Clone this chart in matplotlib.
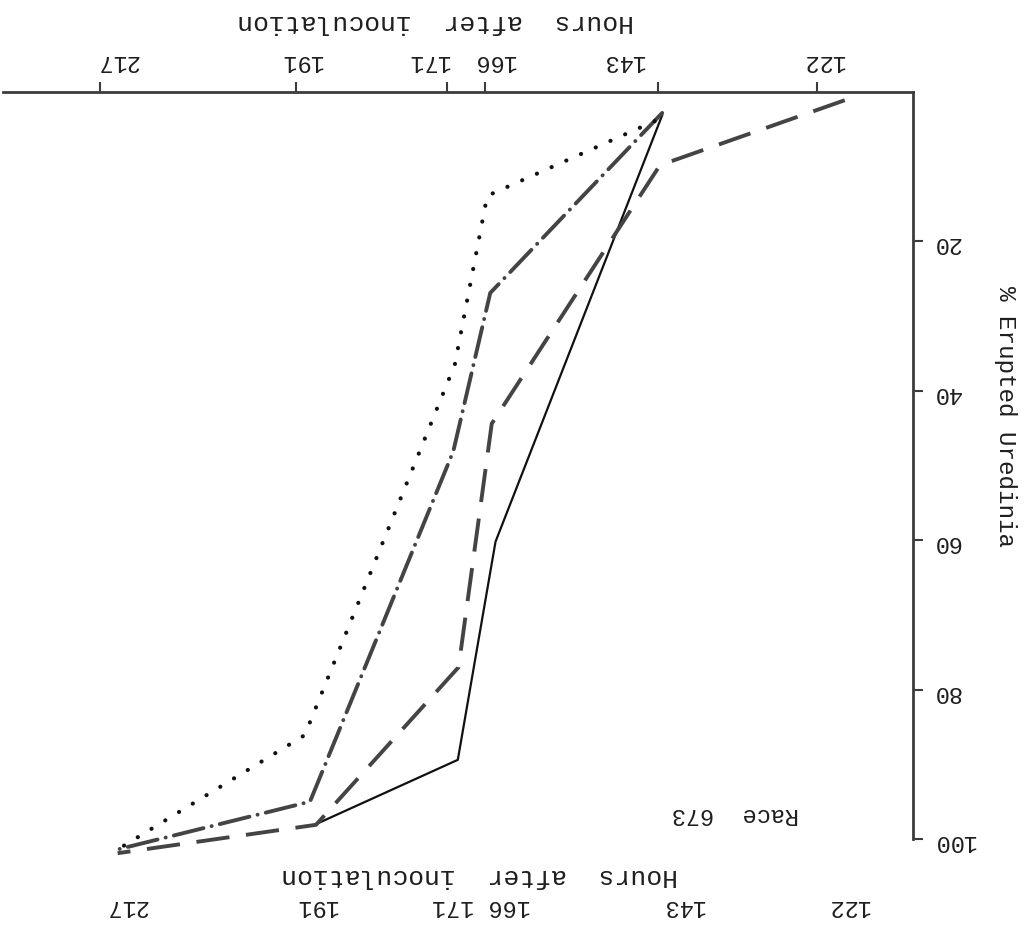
import matplotlib
matplotlib.use('Agg')
import matplotlib.pyplot as plt
import matplotlib.transforms as mtransforms

plt.rcParams['font.family'] = ['Liberation Mono', 'DejaVu Sans Mono']
plt.rcParams['lines.scale_dashes'] = False

# tick values
hour_ticks = [122, 143, 166, 171, 191, 217]
pct_ticks = [20, 40, 60, 80, 100]

# curves (hours, % erupted)
solid_h = [142.5, 164.6, 169.6, 188.6]
solid_p = [3.1, 60.2, 89.4, 98.1]
dash_h = [118.3, 142.8, 165.1, 169.5, 188.4, 214.7]
dash_p = [1.1, 9.8, 44.4, 77.0, 98.1, 101.9]
dashdot_h = [142.5, 165.3, 170.2, 189.2, 215.1]
dashdot_p = [2.8, 26.9, 48.1, 95.0, 101.5]
dot_h = [143.5, 165.7, 170.0, 189.9, 215.5]
dot_p = [3.9, 13.9, 36.5, 86.1, 101.9]

# stray labels from the neighbouring panel at the bottom of the page
lower_labels = ['122', '143', '166 171', '191', '217']

W, H = 1025, 926
fig = plt.figure(figsize=(W / 100, H / 100), dpi=100)
ax = fig.add_axes([3 / W, 87 / H, 910 / W, 747 / H])

ink = '#1e1e1e'
grey = '#444444'

ax.plot(solid_h, solid_p, color='#111111', lw=1.6, clip_on=False)
ax.plot(dash_h, dash_p, color=grey, lw=2.8, ls=(0, (24, 12)), clip_on=False)
ax.plot(dashdot_h, dashdot_p, color=grey, lw=2.8, ls=(0, (22, 6, 0.1, 6)),
        dash_capstyle='round', clip_on=False)
ax.plot(dot_h, dot_p, color='#111111', lw=3, ls=(0, (0.1, 11.5)),
        dash_capstyle='round', clip_on=False)

# the page is scanned upside down: axes flipped, text turned 180
ax.set_xlim(229.9, 109.25)
ax.set_ylim(100, 0)
ax.spines[['left', 'bottom']].set_visible(False)
for s in ['top', 'right']:
    ax.spines[s].set_color('#3c3c3c')
    ax.spines[s].set_linewidth(2)
ax.xaxis.tick_top()
ax.yaxis.tick_right()
ax.set_xticks(hour_ticks)
ax.set_xticklabels([str(h) for h in hour_ticks])
ax.set_yticks(pct_ticks)
ax.tick_params(direction='out', length=7, width=1.5, color='#3c3c3c',
               labelsize=17, labelcolor=ink, labelrotation=180)
ax.tick_params(axis='x', pad=7)
ax.tick_params(axis='y', pad=7)

# typewritten labels sit a little off their ticks
shifts = [6, -35, 9, -19, 5, 17]
for lab, dx in zip(ax.get_xticklabels(), shifts):
    lab.set_transform(lab.get_transform() +
                      mtransforms.ScaledTranslation(dx / 100, 0, fig.dpi_scale_trans))

fig.text(436 / W, 1 - 22 / H, 'Hours  after  inoculation', rotation=180,
         fontsize=19, color=ink, ha='center', va='center')
fig.text(1005 / W, 1 - 416 / H, '% Erupted Uredinia', rotation=270,
         fontsize=17.5, color=ink, ha='center', va='center')

fig.text(735 / W, 1 - 815 / H, 'Race  673', rotation=180,
         fontsize=17, color=ink, ha='center', va='center')
fig.text(480 / W, 1 - 876 / H, 'Hours  after  inoculation', rotation=180,
         fontsize=19, color=ink, ha='center', va='center')
lower_x = [848, 683, 482, 316, 126]
for s, x in zip(lower_labels, lower_x):
    fig.text(x / W, 1 - 906 / H, s, rotation=180, fontsize=17, color=ink,
             ha='center', va='center')

fig.savefig('out.png', dpi=100)
